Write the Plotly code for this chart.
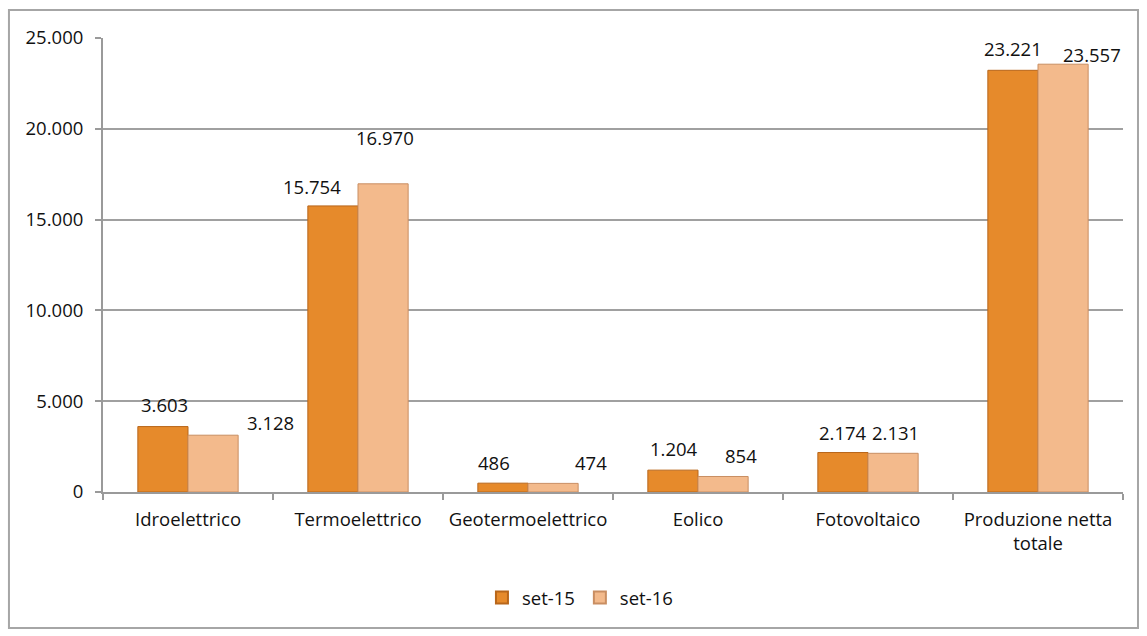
import plotly.graph_objects as go

categories = ["Idroelettrico", "Termoelettrico", "Geotermoelettrico", "Eolico",
              "Fotovoltaico", "Produzione netta<br>totale"]
series_names = ["set-15", "set-16"]
set15 = [3603, 15754, 486, 1204, 2174, 23221]
set16 = [3128, 16970, 474, 854, 2131, 23557]
y_ticks = [0, 5000, 10000, 15000, 20000, 25000]

# label placement (pixels relative to category centre / bar top)
lab_dx15 = [-24, -46, -34, -24, -25, -25]
lab_dy15 = [22, 19, 21, 22, 20, 22]
lab_dx16 = [82, 27, 63, 43, 27, 54]
lab_dy16 = [13, 46, 21, 21, 21, 10]

c15 = "#E68A2B"
c15_line = "#B8661A"
c16 = "#F3BA8C"
c16_line = "#C98E62"
font_family = "Open Sans, Liberation Sans, sans-serif"
txt_color = "#111111"
fs = 18.5


def fmt(v):
    return f"{v:,}".replace(",", ".")


fig = go.Figure()
fig.add_trace(go.Bar(x=categories, y=set15, name=series_names[0],
                     marker=dict(color=c15, line=dict(color=c15_line, width=1))))
fig.add_trace(go.Bar(x=categories, y=set16, name=series_names[1],
                     marker=dict(color=c16, line=dict(color=c16_line, width=1))))

annotations = []
for i, cat in enumerate(categories):
    annotations.append(dict(x=cat, y=set15[i], xref="x", yref="y", text=fmt(set15[i]),
                            showarrow=False, xshift=lab_dx15[i], yshift=lab_dy15[i],
                            font=dict(size=fs, color=txt_color, family=font_family)))
    annotations.append(dict(x=cat, y=set16[i], xref="x", yref="y", text=fmt(set16[i]),
                            showarrow=False, xshift=lab_dx16[i], yshift=lab_dy16[i],
                            font=dict(size=fs, color=txt_color, family=font_family)))

fig.update_layout(
    width=1147, height=636,
    margin=dict(l=103, r=24, t=38, b=144),
    paper_bgcolor="white", plot_bgcolor="white",
    separators=",.",
    barmode="group", bargap=0.41, bargroupgap=0,
    font=dict(family=font_family, size=fs, color=txt_color),
    showlegend=True,
    legend=dict(orientation="h", x=0.4676, y=-0.2335, xanchor="center", yanchor="middle",
                font=dict(size=fs, color=txt_color), itemwidth=30,
                itemsizing="constant", tracegroupgap=0),
    annotations=annotations,
    shapes=[dict(type="rect", xref="paper", yref="paper",
                 x0=-0.0922, x1=1.0147, y0=-0.2996, y1=1.0617,
                 line=dict(color="#A6A6A6", width=2), fillcolor="rgba(0,0,0,0)",
                 layer="below")],
)
fig.update_xaxes(showgrid=False, showline=True, linecolor="#9A9A9A", linewidth=2,
                 ticks="outside", tickcolor="#9A9A9A", ticklen=6, tickwidth=1.5,
                 tickson="boundaries", ticklabelstandoff=10,
                 tickfont=dict(size=fs, color=txt_color))
fig.update_yaxes(range=[0, 25000], tickvals=y_ticks, tickformat=",d",
                 showgrid=True, gridcolor="#A0A0A0", gridwidth=1.5,
                 showline=True, linecolor="#9A9A9A", linewidth=2,
                 ticks="outside", tickcolor="#9A9A9A", ticklen=6, tickwidth=1.5,
                 ticklabelstandoff=8, zeroline=False,
                 tickfont=dict(size=fs, color=txt_color))

fig.write_html("out.html")
